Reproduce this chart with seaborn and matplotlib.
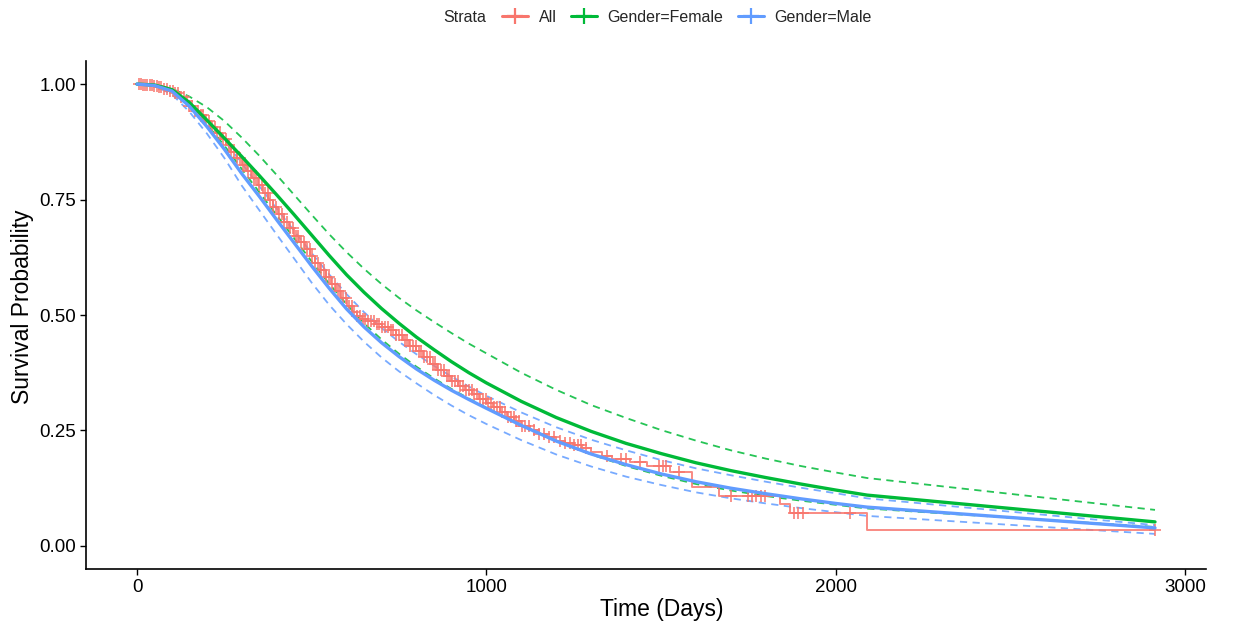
import numpy as np
import pandas as pd
import matplotlib
matplotlib.use("Agg")
import matplotlib.pyplot as plt
from matplotlib.lines import Line2D
import seaborn as sns

# ---------------- data ----------------
# Kaplan-Meier "All" (step-post)
km_time = [0, 15, 30, 45, 60, 75, 90, 105, 120, 135, 150, 165, 180, 195, 210, 225, 240, 255,
           270, 285, 300, 315, 330, 345, 360, 375, 390, 405, 420, 435, 450, 465, 480, 495,
           510, 525, 540, 555, 570, 585, 600, 615, 630, 645, 660, 680, 700, 720, 740, 760,
           780, 800, 820, 840, 860, 880, 900, 920, 940, 960, 980, 1000, 1020, 1040, 1060,
           1080, 1100, 1125, 1150, 1175, 1200, 1225, 1250, 1275, 1300, 1330, 1360, 1410,
           1460, 1525, 1590, 1665, 1840, 1870, 2090, 2914]
km_surv = [1.000, 0.999, 0.997, 0.995, 0.993, 0.990, 0.986, 0.980, 0.972, 0.963, 0.952, 0.942,
           0.932, 0.920, 0.907, 0.894, 0.881, 0.868, 0.853, 0.839, 0.825, 0.811, 0.796, 0.781,
           0.765, 0.749, 0.733, 0.718, 0.702, 0.688, 0.672, 0.657, 0.642, 0.627, 0.612, 0.597,
           0.582, 0.567, 0.552, 0.536, 0.520, 0.506, 0.497, 0.491, 0.486, 0.481, 0.475, 0.467,
           0.457, 0.445, 0.433, 0.421, 0.408, 0.394, 0.380, 0.368, 0.357, 0.347, 0.337, 0.328,
           0.319, 0.310, 0.300, 0.290, 0.280, 0.270, 0.260, 0.251, 0.242, 0.235, 0.228, 0.223,
           0.218, 0.211, 0.204, 0.195, 0.188, 0.181, 0.173, 0.160, 0.127, 0.107, 0.090, 0.071,
           0.035, 0.035]

# censoring times for "All"
censor_time = [5, 12, 18, 24, 30, 37, 44, 50, 57, 64, 70, 78, 86, 94, 102, 110, 118, 126, 134,
               142, 150, 158, 166, 174, 182, 190, 198, 206, 214, 222, 230, 238, 246, 254, 262,
               270, 278, 286, 294, 302, 310, 318, 326, 334, 342, 350, 358, 366, 374, 382, 390,
               398, 406, 414, 422, 430, 438, 446, 454, 462, 470, 478, 486, 494, 502, 510, 518,
               526, 534, 542, 550, 558, 566, 574, 582, 590, 598, 606, 614, 622, 630, 638, 646,
               654, 662, 670, 678, 686, 694, 702, 710, 718, 726, 734, 742, 750, 758, 766, 774,
               782, 790, 798, 806, 814, 822, 830, 838, 846, 854, 862, 870, 878, 886, 894, 902,
               910, 918, 926, 934, 942, 950, 958, 966, 974, 982, 990, 998, 1006, 1014, 1022,
               1030, 1038, 1046, 1054, 1062, 1070, 1078, 1086, 1094, 1102, 1112, 1122, 1135,
               1150, 1165, 1180, 1195, 1210, 1225, 1240, 1252, 1262, 1272, 1284, 1345, 1385,
               1400, 1440, 1495, 1505, 1515, 1552, 1700, 1748, 1760, 1772, 1785, 1798, 1880,
               1893, 1905, 2040, 2914]

# parametric fits, evaluated at these times
fit_time = [0, 50, 100, 150, 200, 250, 300, 350, 400, 450, 500, 550, 600, 650, 700, 750, 800,
            850, 900, 950, 1000, 1100, 1200, 1300, 1400, 1500, 1600, 1700, 1800, 1900, 2000,
            2090, 2914]

female_est = [1.000, 0.998, 0.988, 0.960, 0.922, 0.883, 0.843, 0.802, 0.760, 0.717, 0.673,
              0.629, 0.587, 0.549, 0.514, 0.482, 0.452, 0.425, 0.399, 0.375, 0.353, 0.313,
              0.278, 0.248, 0.222, 0.200, 0.180, 0.163, 0.148, 0.134, 0.121, 0.110, 0.052]
female_upper = [1.000, 0.999, 0.990, 0.973, 0.950, 0.920, 0.884, 0.845, 0.803, 0.760, 0.717,
                0.675, 0.636, 0.600, 0.567, 0.537, 0.510, 0.485, 0.461, 0.438, 0.417, 0.375,
                0.338, 0.305, 0.277, 0.251, 0.228, 0.207, 0.189, 0.173, 0.159, 0.147, 0.078]
female_lower = [1.000, 0.998, 0.988, 0.956, 0.913, 0.867, 0.816, 0.766, 0.716, 0.666, 0.616,
                0.568, 0.523, 0.482, 0.447, 0.416, 0.388, 0.363, 0.340, 0.319, 0.299, 0.262,
                0.227, 0.198, 0.173, 0.152, 0.134, 0.120, 0.108, 0.098, 0.089, 0.081, 0.041]

male_est = [1.000, 0.997, 0.985, 0.952, 0.908, 0.859, 0.806, 0.757, 0.706, 0.656, 0.606,
            0.558, 0.513, 0.474, 0.440, 0.410, 0.383, 0.359, 0.337, 0.317, 0.298, 0.261,
            0.227, 0.199, 0.176, 0.156, 0.139, 0.125, 0.113, 0.102, 0.092, 0.084, 0.039]
male_upper = [1.000, 0.998, 0.990, 0.962, 0.922, 0.878, 0.828, 0.779, 0.730, 0.682, 0.634,
              0.588, 0.545, 0.506, 0.472, 0.442, 0.415, 0.390, 0.367, 0.345, 0.325, 0.289,
              0.257, 0.230, 0.207, 0.186, 0.168, 0.153, 0.139, 0.126, 0.114, 0.103, 0.045]
male_lower = [1.000, 0.996, 0.978, 0.940, 0.893, 0.840, 0.780, 0.727, 0.674, 0.622, 0.570,
              0.522, 0.480, 0.442, 0.408, 0.378, 0.352, 0.327, 0.304, 0.283, 0.264, 0.229,
              0.198, 0.172, 0.150, 0.132, 0.116, 0.103, 0.092, 0.082, 0.073, 0.065, 0.026]

strata_labels = ["All", "Gender=Female", "Gender=Male"]
x_ticks = [0, 1000, 2000, 3000]
y_ticks = [0.00, 0.25, 0.50, 0.75, 1.00]

# ---------------- style ----------------
sns.set_theme(style="white")
plt.rcParams["font.family"] = ["Liberation Sans", "DejaVu Sans"]

C_ALL = "#F8766D"
C_FEM = "#00BA38"
C_MAL = "#619CFF"

fig = plt.figure(figsize=(12.39, 6.26), dpi=100)
ax = fig.add_axes([86 / 1239, 57 / 626, 1120 / 1239, 508 / 626])

# confidence bands (dashed)
for vals, col in [(female_upper, C_FEM), (female_lower, C_FEM),
                  (male_upper, C_MAL), (male_lower, C_MAL)]:
    sns.lineplot(x=fit_time, y=vals, color=col, lw=1.3, linestyle=(0, (4, 3)),
                 alpha=0.85, ax=ax, estimator=None, sort=False)

# Kaplan-Meier step curve
sns.lineplot(x=km_time, y=km_surv, color=C_ALL, lw=1.4, alpha=0.85,
             drawstyle="steps-post", ax=ax, estimator=None, sort=False)

# censor marks, placed on the step curve
km_t = np.array(km_time)
km_s = np.array(km_surv)
idx = np.searchsorted(km_t, np.array(censor_time), side="right") - 1
cens_df = pd.DataFrame({"time": censor_time, "surv": km_s[idx]})
sns.scatterplot(data=cens_df, x="time", y="surv", marker="+", s=70, color=C_ALL,
                linewidth=1.3, alpha=0.85, ax=ax, zorder=3)

# fitted estimates (solid)
sns.lineplot(x=fit_time, y=female_est, color=C_FEM, lw=2.4, ax=ax,
             estimator=None, sort=False, zorder=4)
sns.lineplot(x=fit_time, y=male_est, color=C_MAL, lw=2.4, ax=ax,
             estimator=None, sort=False, zorder=4)

# axes
ax.set_xlim(-146, 3060)
ax.set_ylim(-0.05, 1.05)
ax.set_xticks(x_ticks)
ax.set_xticklabels([str(v) for v in x_ticks])
ax.set_yticks(y_ticks)
ax.set_yticklabels([f"{v:.2f}" for v in y_ticks])
ax.set_xlabel("Time (Days)", fontsize=16.5, color="black")
ax.set_ylabel("Survival Probability", fontsize=16.5, color="black")
ax.xaxis.set_label_coords(0.514, -0.058)
ax.yaxis.set_label_coords(-0.046, 0.516)
ax.tick_params(axis="both", which="major", labelsize=13.5, colors="black",
               length=4, width=1, direction="out", pad=3)
ax.tick_params(left=True, bottom=True)
for side in ["top", "right"]:
    ax.spines[side].set_visible(False)
for side in ["left", "bottom"]:
    ax.spines[side].set_color("black")
    ax.spines[side].set_linewidth(1.2)
ax.grid(False)

# legend at top
handles = [Line2D([], [], color=c, lw=2.2, marker="+", markersize=11, markeredgewidth=1.6)
           for c in (C_ALL, C_FEM, C_MAL)]
fig.text(443 / 1239, 1 - 17 / 626, "Strata", fontsize=11.5, ha="left", va="center")
fig.legend(handles, strata_labels, ncol=3, frameon=False, fontsize=11.5,
           loc="center left", bbox_to_anchor=(502 / 1239, 1 - 17 / 626),
           handlelength=1.6, handletextpad=0.7, columnspacing=0.9, borderaxespad=0,
           borderpad=0)

fig.savefig("out.png", dpi=100)
